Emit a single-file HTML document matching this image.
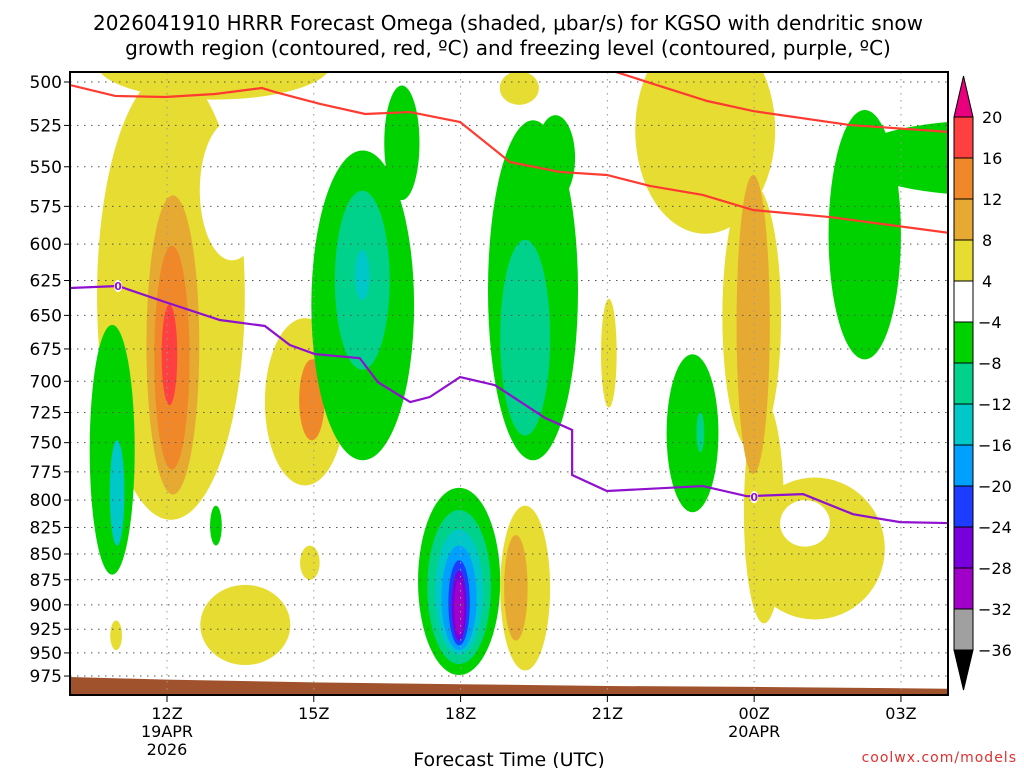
<!DOCTYPE html>
<html><head><meta charset="utf-8"><style>
body{margin:0;background:#fff;width:1024px;height:768px;overflow:hidden;font-family:"DejaVu Sans","Liberation Sans",sans-serif}
svg text{font-family:"DejaVu Sans","Liberation Sans",sans-serif}
</style></head><body>
<svg id="chart" width="1024" height="768" xmlns="http://www.w3.org/2000/svg">
<text x="508" y="30" font-size="20" text-anchor="middle">2026041910 HRRR Forecast Omega (shaded, μbar/s) for KGSO with dendritic snow</text>
<text x="508" y="55" font-size="20" text-anchor="middle">growth region (contoured, red, ºC) and freezing level (contoured, purple, ºC)</text>
<defs><clipPath id="plotclip"><rect x="70" y="72" width="878" height="623"/></clipPath></defs>
<g id="fills" clip-path="url(#plotclip)"></g>
<g id="grid"></g>
<g id="lines" clip-path="url(#plotclip)"></g>
<rect x="70" y="72" width="878" height="623" fill="none" stroke="#000" stroke-width="2"/>
<g id="axes"></g>
<g id="colorbar"></g>
<text x="509" y="766" font-size="19" text-anchor="middle">Forecast Time (UTC)</text>
<text x="1017" y="762" font-size="14" fill="#e03030" text-anchor="end" letter-spacing="1">coolwx.com/models</text>
</svg>
<script>
// hours relative to 12Z 19APR; pressures in hPa (log-p axis)
const pressureTicks=[500,525,550,575,600,625,650,675,700,725,750,775,800,825,850,875,900,925,950,975];
const timeTicks=[0,3,6,9,12,15];
const timeLabels=["12Z","15Z","18Z","21Z","00Z","03Z"];
const dateLabels=[["19APR","2026"],[],[],[],["20APR"],[]];
const cbLevels=["20","16","12","8","4","−4","−8","−12","−16","−20","−24","−28","−32","−36"];
const cbColors=["#ff4040","#f0882a","#e6aa32","#e6dc32","#ffffff","#00d200","#00d28c","#00c8c8","#00a0ff","#1e3cff","#7800dc","#a000c8","#a0a0a0"];
// blobs: [colorIndex, hourCenter, pressureTop, pressureBottom, hourHalfWidth]
const blobs=[
[3,0.96,470,510,2.4],[3,0.08,494,818,1.51],[4,1.33,522,611,0.66],
[2,0.12,568,795,0.54],[1,0.1,601,773,0.36],[0,0.05,642,719,0.16],
[5,-1.12,657,870,0.46],[7,-1.02,748,842,0.15],
[5,1.0,805,842,0.12],[3,-1.04,916,947,0.12],
[3,2.82,652,787,0.82],[1,2.96,683,748,0.26],[3,2.92,842,875,0.2],[3,1.6,880,963,0.92],
[5,4.8,502,571,0.36],[5,4.0,540,765,1.05],[6,3.99,565,691,0.56],[7,3.99,604,639,0.15],
[3,7.2,494,513,0.4],[5,7.48,522,765,0.92],[5,7.94,519,571,0.4],[6,7.32,597,744,0.51],
[5,5.97,789,974,0.84],[6,5.97,809,962,0.65],[7,5.97,827,952,0.49],[8,5.97,842,947,0.36],[9,5.97,856,942,0.22],[10,5.97,866,937,0.15],[11,5.97,875,931,0.1],
[3,7.32,805,969,0.51],[2,7.13,832,937,0.24],
[3,9.03,638,721,0.16],
[3,11.0,470,593,1.43],[3,11.95,560,756,0.6],[3,12.2,715,919,0.41],
[3,13.24,780,915,1.43],[4,13.04,800,843,0.51],[2,11.98,555,777,0.34],
[5,10.74,679,811,0.53],[6,10.9,725,758,0.08],
[5,14.26,516,683,0.74],[5,16.82,522,568,2.86]
];
const redLine1H=[-1.98,-1.06,-0.04,0.98,1.94,2.21,3.13,4.05,4.97,5.99,7.01,8.03,8.99,9.87,10.95,11.98,13.55,16.0];
const redLine1P=[501.7,507.9,508.5,506.8,503.4,505.7,512.5,518.3,517.2,523.0,547.1,553.2,555.1,562.0,567.7,577.4,582.0,592.5];
const redLine2H=[9.05,10.01,11.04,11.98,13.96,16.0];
const redLine2P=[493.3,501.7,510.8,516.6,524.8,528.9];
const purpleH=[-1.98,-1.0,-0.04,1.08,2.0,2.51,3.02,3.94,4.31,4.97,5.37,5.99,6.70,7.73,8.28,8.28,8.99,10.95,11.85,13.0,14.02,14.98,16.0];
const purpleP=[630.3,628.9,640.3,653.4,657.8,672.0,678.9,682.0,700.7,716.5,712.5,696.7,703.0,729.5,739.4,777.8,791.9,787.5,796.5,794.7,812.8,820.1,821];
const freezeLabelH=[-1.0,12.0];
const freezeLabelP=[628.9,797.4];
const terrainH=[-2,0,3,6,9,12,16];
const terrainP=[976,979,982,984,986,987,989];

(function(){
const NS="http://www.w3.org/2000/svg";
const X=h=>167+h*48.93, Y=p=>82+889.5*Math.log(p/500);
function mk(tag,attrs,parent){const e=document.createElementNS(NS,tag);for(const k in attrs)e.setAttribute(k,attrs[k]);parent.appendChild(e);return e;}
const fills=document.getElementById('fills'),grid=document.getElementById('grid'),lines=document.getElementById('lines'),axes=document.getElementById('axes'),cb=document.getElementById('colorbar');
blobs.forEach((b,i)=>{
 const y1=Y(b[2]),y2=Y(b[3]);
 const e=mk('ellipse',{cx:X(b[1]),cy:(y1+y2)/2,rx:b[4]*48.93,ry:(y2-y1)/2,fill:cbColors[b[0]]},fills);
 
 
});
const tp=terrainH.map((h,i)=>X(h)+','+Y(terrainP[i])).join(' ')+' '+X(16)+',700 '+X(-2)+',700';
const terr=mk('polygon',{points:tp,fill:'#a0522d'},fills);


pressureTicks.forEach(p=>{
 const l=mk('line',{x1:70,x2:948,y1:Y(p),y2:Y(p),stroke:'#555','stroke-dasharray':'1.5,5.5'},grid);
 
 
 mk('line',{x1:64,x2:70,y1:Y(p),y2:Y(p),stroke:'#000'},axes);
 const t=mk('text',{x:62,y:Y(p)+6,'font-size':17,'text-anchor':'end'},axes);t.textContent=p;
 
 
});
timeTicks.forEach((h,i)=>{
 const l=mk('line',{x1:X(h),x2:X(h),y1:72,y2:695,stroke:'#999','stroke-dasharray':'1.5,5.5'},grid);
 
 
 mk('line',{x1:X(h),x2:X(h),y1:695,y2:702,stroke:'#000'},axes);
 const t=mk('text',{x:X(h),y:719,'font-size':16,'text-anchor':'middle'},axes);t.textContent=timeLabels[i];
 
 
 dateLabels[i].forEach((d,j)=>{const u=mk('text',{x:X(h),y:737+j*18,'font-size':16,'text-anchor':'middle'},axes);u.textContent=d;
 
 });
});
function poly(H,P,color,name){const e=mk('polyline',{points:H.map((h,i)=>X(h)+','+Y(P[i])).join(' '),fill:'none',stroke:color,'stroke-width':2.2},lines);
 
 }
poly(redLine1H,redLine1P,'#ff3a30','dendritic-line-lower');
poly(redLine2H,redLine2P,'#ff3a30','dendritic-line-upper');
poly(purpleH,purpleP,'#9010d0','freezing-level-line');
freezeLabelH.forEach((h,i)=>{
 mk('ellipse',{cx:X(h),cy:Y(freezeLabelP[i]),rx:4,ry:6,fill:'#fff'},lines);
 const t=mk('text',{x:X(h),y:Y(freezeLabelP[i])+4,'font-size':11,'text-anchor':'middle',fill:'#9010d0','font-weight':'bold'},lines);t.textContent='0';
 
 
});
const bw=41;
const upArrow=mk('polygon',{points:'954,117 973,117 963.5,76',fill:'#e8007f',stroke:'#000'},cb);


cbColors.forEach((c,i)=>{const r=mk('rect',{x:954,y:117+i*bw,width:19,height:bw,fill:c,stroke:'#000'},cb);
 
 });
const downArrow=mk('polygon',{points:'954,650 973,650 963.5,690',fill:'#000',stroke:'#000'},cb);


cbLevels.forEach((l,i)=>{const t=mk('text',{x:l[0]==='−'?978:982,y:123+i*bw,'font-size':16},cb);t.textContent=l;
 
 });
})();
</script>
</body></html>
